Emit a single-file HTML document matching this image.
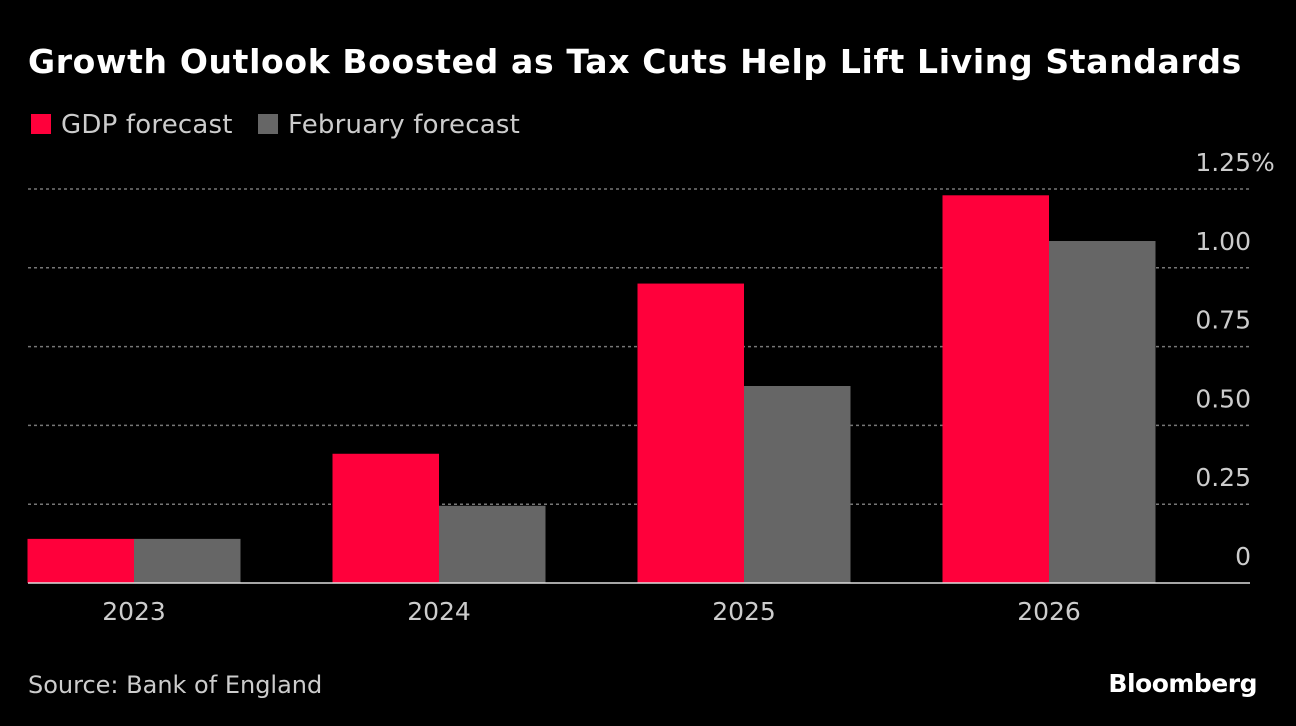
<!DOCTYPE html>
<html><head><meta charset="utf-8"><style>
body{margin:0;background:#000;width:1296px;height:726px;overflow:hidden;font-family:"Liberation Sans","DejaVu Sans",sans-serif;}
</style></head><body>
<svg id="chart" width="1296" height="726" xmlns="http://www.w3.org/2000/svg" style="display:block">
<rect width="1296" height="726" fill="#000"/>
<text x="28" y="73" fill="#fff" font-size="33" font-weight="bold" font-family="DejaVu Sans, Liberation Sans, sans-serif" letter-spacing="0.65">Growth Outlook Boosted as Tax Cuts Help Lift Living Standards</text>
<g>
<rect x="31" y="114" width="20" height="20" fill="#ff003b"/>
<text x="61" y="133" fill="#ccc" font-size="26" font-family="DejaVu Sans, sans-serif" letter-spacing="0.2">GDP forecast</text>
<rect x="258" y="114" width="20" height="20" fill="#666"/>
<text x="288" y="133" fill="#ccc" font-size="26" font-family="DejaVu Sans, sans-serif" letter-spacing="0.2">February forecast</text>
</g>
<g id="grid"></g><g id="bars"></g><g id="labels"></g>
<text x="28" y="693" fill="#ccc" font-size="24" font-family="DejaVu Sans, sans-serif">Source: Bank of England</text>
<text x="1257" y="692" text-anchor="end" fill="#fff" font-size="25" font-weight="bold" font-family="DejaVu Sans, sans-serif" letter-spacing="-0.5">Bloomberg</text>
</svg>
<script>
const categories=["2023","2024","2025","2026"];
const gdpValues=[0.14,0.41,0.95,1.23];
const februaryValues=[0.14,0.245,0.625,1.085];
const tickValues=[0,0.25,0.5,0.75,1,1.25];
const tickLabels=["0","0.25","0.50","0.75","1.00","1.25"];
const NS="http://www.w3.org/2000/svg";
const y0=583,pxPerUnit=315.2,left=28,right=1250,firstCenter=134,step=305,barW=106.5;
function y(v){return y0-v*pxPerUnit;}
function xc(i){return firstCenter+i*step;}
function mk(tag,attrs,parent){const e=document.createElementNS(NS,tag);for(const k in attrs)e.setAttribute(k,attrs[k]);parent.appendChild(e);return e;}
const grid=document.getElementById('grid'),bars=document.getElementById('bars'),labels=document.getElementById('labels');
tickValues.forEach((v,i)=>{
  if(v>0){const l=mk('line',{x1:left,x2:right,y1:y(v),y2:y(v),stroke:'#777','stroke-width':1.5,'stroke-dasharray':'3,3'},grid);
  
  }
  const t=mk('text',{x:1251,y:y(v)-18,'text-anchor':'end',fill:'#ccc','font-size':25,'font-family':'DejaVu Sans, sans-serif'},labels);
  t.textContent=tickLabels[i];
  
  
  if(i===tickValues.length-1){
    const p=mk('text',{x:1251,y:y(v)-18,fill:'#ccc','font-size':25,'font-family':'DejaVu Sans, sans-serif'},labels);
    p.textContent='%';
    
    
  }
});
categories.forEach((c,i)=>{
  const r=mk('rect',{x:xc(i)-barW,y:y(gdpValues[i]),width:barW,height:y0-y(gdpValues[i]),fill:'#ff003b'},bars);
  
  
  const g=mk('rect',{x:xc(i),y:y(februaryValues[i]),width:barW,height:y0-y(februaryValues[i]),fill:'#666'},bars);
  
  
  const t=mk('text',{x:xc(i),y:620,'text-anchor':'middle',fill:'#ccc','font-size':25,'font-family':'DejaVu Sans, sans-serif'},labels);
  t.textContent=c;
  
  
});
const base=mk('line',{x1:left,x2:right,y1:y0,y2:y0,stroke:'#ddd','stroke-width':1.5},bars);


</script>
</body></html>
